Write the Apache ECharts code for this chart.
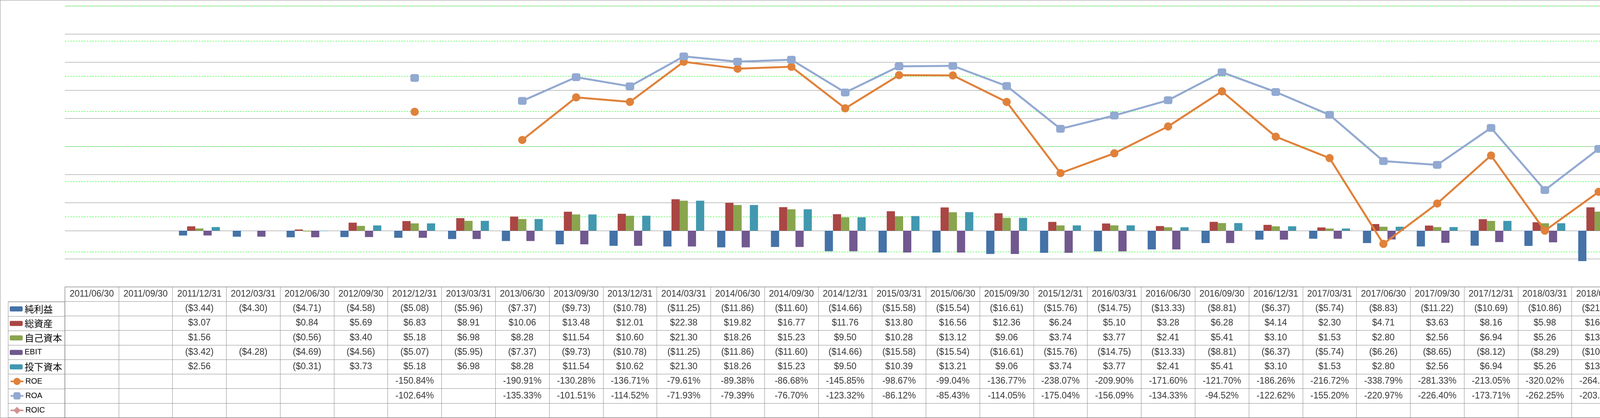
<!DOCTYPE html>
<html><head><meta charset="utf-8">
<script src="https://cdn.jsdelivr.net/npm/echarts@6/dist/echarts.min.js"></script>
<style>
html,body{margin:0;padding:0;background:#fff;overflow:hidden}
#c{position:absolute;left:0;top:0;width:5877px;height:1071px}
#frame{position:absolute;left:0;top:0;width:5877px;height:1071px;box-sizing:border-box;border:1px solid #8c8c8c;pointer-events:none}
</style>
</head><body><div id="c"></div><div id="frame"></div>
<script>
const categories = ['2011/06/30','2011/09/30','2011/12/31','2012/03/31','2012/06/30','2012/09/30','2012/12/31','2013/03/31','2013/06/30','2013/09/30','2013/12/31','2014/03/31','2014/06/30','2014/09/30','2014/12/31','2015/03/31','2015/06/30','2015/09/30','2015/12/31','2016/03/31','2016/06/30','2016/09/30','2016/12/31','2017/03/31','2017/06/30','2017/09/30','2017/12/31','2018/03/31','2018/06/30','2018/09/30','2018/12/31','2019/03/31','2019/06/30','2019/09/30','2019/12/31','2020/03/31','2020/06/30','2020/09/30','2020/12/31','2021/03/31'];
const netIncome = [null,null,-3.44,-4.30,-4.71,-4.58,-5.08,-5.96,-7.37,-9.73,-10.78,-11.25,-11.86,-11.60,-14.66,-15.58,-15.54,-16.61,-15.76,-14.75,-13.33,-8.81,-6.37,-5.74,-8.83,-11.22,-10.69,-10.86,-21.67,-22.80,-22.88,-25.08,-16.72,-16.70,-17.24,-16.11,-12.76,-12.96,-22.33,-22.92];
const totalAssets = [null,null,3.07,null,0.84,5.69,6.83,8.91,10.06,13.48,12.01,22.38,19.82,16.77,11.76,13.80,16.56,12.36,6.24,5.10,3.28,6.28,4.14,2.30,4.71,3.63,8.16,5.98,16.58,14.12,11.72,21.02,18.61,16.60,14.49,11.81,10.21,11.44,42.84,141.08];
const equity = [null,null,1.56,null,-0.56,3.40,5.18,6.98,8.28,11.54,10.60,21.30,18.26,15.23,9.50,10.28,13.12,9.06,3.74,3.77,2.41,5.41,3.10,1.53,2.80,2.56,6.94,5.26,13.57,10.57,8.81,19.50,17.55,15.02,13.16,10.90,8.37,9.87,27.17,139.70];
const ebit = [null,null,-3.42,-4.28,-4.69,-4.56,-5.07,-5.95,-7.37,-9.73,-10.78,-11.25,-11.86,-11.60,-14.66,-15.58,-15.54,-16.61,-15.76,-14.75,-13.33,-8.81,-6.37,-5.74,-6.26,-8.65,-8.12,-8.29,-10.19,-11.32,-11.40,-13.60,-16.72,-16.70,-17.24,-16.11,-12.76,-12.96,-17.83,-18.42];
const investedCapital = [null,null,2.56,null,-0.31,3.73,5.18,6.98,8.28,11.54,10.62,21.30,18.26,15.23,9.50,10.39,13.21,9.06,3.74,3.77,2.41,5.41,3.10,1.53,2.80,2.56,6.94,5.26,13.57,10.57,8.81,19.58,17.63,15.08,13.21,10.93,8.42,9.90,27.19,139.71];
const roe = [null,null,null,null,null,null,-150.84,null,-190.91,-130.28,-136.71,-79.61,-89.38,-86.68,-145.85,-98.67,-99.04,-136.77,-238.07,-209.90,-171.60,-121.70,-186.26,-216.72,-338.79,-281.33,-213.05,-320.02,-264.79,-347.23,-290.71,-202.64,-107.48,-130.53,-157.00,-106.04,-98.41,-104.16,-110.76,-30.44];
const roa = [null,null,null,null,null,null,-102.64,null,-135.33,-101.51,-114.52,-71.93,-79.39,-76.70,-123.32,-86.12,-85.43,-114.05,-175.04,-156.09,-134.33,-94.52,-122.62,-155.20,-220.97,-226.40,-173.71,-262.25,-203.63,-256.76,-230.17,-185.77,-95.06,-108.72,-131.55,-98.14,-88.55,-92.48,-77.90,-29.98];
const roic = categories.map(() => null);
const seriesNames = ['純利益','総資産','自己資本','EBIT','投下資本','ROE','ROA','ROIC'];
const seriesColors = ['#4572A7','#AA4643','#89A54E','#71588F','#4198AF','#E0813A','#92A9D1','#D19392'];
const unitLabel = '(単位:百万USD)';

const GRID_LINE = '#8c8c8c';
const GREEN = '#00ff00';
const TABLE_FONT = '"Liberation Sans", Arial, sans-serif';
const ROW_H = 37.125;

function money(v){ const a = Math.abs(v).toFixed(2); return v < 0 ? '($' + a + ')' : '$' + a; }
function pct(v){ return v.toFixed(2) + '%'; }

const barData = [netIncome, totalAssets, equity, ebit, investedCapital];
const lineData = [roe, roa, roic];
const lineSymbols = ['circle', 'roundRect', 'diamond'];
const lineSizes = [21, [22, 20], 18];

const series = [];
barData.forEach((d, i) => {
  series.push({
    name: seriesNames[i], type: 'bar', xAxisIndex: 0, yAxisIndex: 0, data: d,
    barGap: '0%', barCategoryGap: '24%',
    itemStyle: { color: seriesColors[i] }, z: 3
  });
});
lineData.forEach((d, j) => {
  const i = j + 5;
  series.push({
    name: seriesNames[i], type: 'line', xAxisIndex: 0, yAxisIndex: 1, data: d,
    symbol: lineSymbols[j], symbolSize: lineSizes[j], showSymbol: true, connectNulls: false,
    lineStyle: { width: 5, color: seriesColors[i] }, itemStyle: { color: seriesColors[i] }, z: 5 + j
  });
});

const tableRows = [
  { data: netIncome, fmt: money }, { data: totalAssets, fmt: money }, { data: equity, fmt: money },
  { data: ebit, fmt: money }, { data: investedCapital, fmt: money },
  { data: roe, fmt: pct }, { data: roa, fmt: pct }, { data: roic, fmt: pct }
];
const rowKeys = ['h','r1','r2','r3','r4','r5','r6','r7','r8'];
function cellSeries(data, formatter) {
  return {
    type: 'scatter', xAxisIndex: 1, yAxisIndex: 2, data: data, symbolSize: 1, silent: true,
    itemStyle: { color: 'rgba(0,0,0,0)' }, z: 10,
    label: { show: true, position: 'inside', formatter: formatter, color: '#000', fontSize: 23, fontFamily: TABLE_FONT }
  };
}
series.push(cellSeries(categories.map((c, i) => [i, 0, c]), p => p.data[2]));
tableRows.forEach((r, ri) => {
  const pts = [];
  r.data.forEach((v, i) => { if (v !== null && v !== undefined) pts.push([i, ri + 1, v]); });
  series.push(cellSeries(pts, p => r.fmt(p.data[2])));
});

const legendText = {
  color: '#000', lineHeight: ROW_H,
  rich: {
    c: { fontSize: 24, lineHeight: ROW_H, fontFamily: '"Noto Sans CJK JP", sans-serif', color: '#000' },
    l: { fontSize: 20, lineHeight: ROW_H, fontFamily: '"Liberation Sans", Arial, sans-serif', color: '#000' }
  }
};
function legendFmt(name) { return /[^\x00-\x7f]/.test(name) ? '{c|' + name + '}' : '{l|' + name + '}'; }
function makeLegend(left, names, top, itemH, extra) {
  return Object.assign({
    data: names, orient: 'vertical', left: left, top: top, itemGap: 0, itemWidth: 33, itemHeight: itemH,
    padding: 0, selectedMode: false, formatter: legendFmt, textStyle: legendText
  }, extra || {});
}
const barNames = seriesNames.slice(0, 5);
const lineNames = seriesNames.slice(5);
const tableTop = 773;

const option = {
  animation: false,
  backgroundColor: '#fff',
  title: { text: unitLabel, left: 5693, top: 750, padding: 0,
    textStyle: { fontSize: 20, fontWeight: 'normal', color: '#000', fontFamily: '"Noto Sans CJK JP", sans-serif' } },
  legend: [
    makeLegend(25, barNames, tableTop, 13),
    makeLegend(25, lineNames, tableTop + 5 * ROW_H, 23, { lineStyle: { width: 4 } }),
    makeLegend(5689, barNames, tableTop, 13),
    makeLegend(5689, lineNames, tableTop + 5 * ROW_H, 23, { lineStyle: { width: 4 } })
  ],
  grid: [
    { left: 166, top: 15, width: 5511, height: 720, outerBoundsMode: 'none', containLabel: false },
    { left: 166, top: 735, width: 5511, height: 335, show: true, borderColor: GRID_LINE, borderWidth: 1, outerBoundsMode: 'none', containLabel: false },
    { left: 21, top: 773, width: 145, height: 297, show: true, borderColor: GRID_LINE, borderWidth: 1, outerBoundsMode: 'none', containLabel: false }
  ],
  xAxis: [
    { type: 'category', gridIndex: 0, data: categories, boundaryGap: true,
      axisLine: { show: false }, axisTick: { show: false }, axisLabel: { show: false }, splitLine: { show: false } },
    { type: 'category', gridIndex: 1, data: categories, boundaryGap: true,
      axisLine: { show: false }, axisTick: { show: false }, axisLabel: { show: false },
      splitLine: { show: true, interval: 0, lineStyle: { color: GRID_LINE, width: 1 } } },
    { type: 'category', gridIndex: 2, data: ['x'], boundaryGap: true,
      axisLine: { show: false }, axisTick: { show: false }, axisLabel: { show: false }, splitLine: { show: false } }
  ],
  yAxis: [
    { type: 'value', gridIndex: 0, position: 'right', min: -40, max: 160, interval: 20,
      axisLine: { show: true, lineStyle: { color: GRID_LINE, width: 1 } }, axisTick: { show: false },
      axisLabel: { margin: 22, fontSize: 20, fontFamily: '"DejaVu Sans", Verdana, sans-serif',
        formatter: v => v < 0 ? '($' + (-v) + ')' : '$' + v,
        color: v => (v < 0 ? '#ff0000' : '#000000') },
      splitLine: { show: true, lineStyle: { color: GRID_LINE, width: 1 } } },
    { type: 'value', gridIndex: 0, position: 'right', offset: 79, min: -400, max: 0, interval: 50,
      axisLine: { show: true, lineStyle: { color: GREEN, width: 1, type: [4, 3] } },
      axisTick: { show: true, length: 5, lineStyle: { color: GREEN, width: 1 } },
      axisLabel: { margin: 22, fontSize: 19, fontFamily: '"DejaVu Sans", Verdana, sans-serif',
        formatter: v => pct(v),
        color: v => (v < 0 ? '#ff0000' : '#000000') },
      splitLine: { show: true, lineStyle: { color: GREEN, width: 1, type: [4, 3] } } },
    { type: 'category', gridIndex: 1, data: rowKeys, inverse: true, boundaryGap: true,
      axisLine: { show: false }, axisTick: { show: false }, axisLabel: { show: false },
      splitLine: { show: true, interval: 0, lineStyle: { color: GRID_LINE, width: 1 } } },
    { type: 'category', gridIndex: 2, data: rowKeys.slice(1), inverse: true, boundaryGap: true,
      axisLine: { show: false }, axisTick: { show: false }, axisLabel: { show: false },
      splitLine: { show: true, interval: 0, lineStyle: { color: GRID_LINE, width: 1 } } }
  ],
  series: series
};

const chart = echarts.init(document.getElementById('c'), null, { renderer: 'canvas' });
chart.setOption(option);
</script>
</body></html>
